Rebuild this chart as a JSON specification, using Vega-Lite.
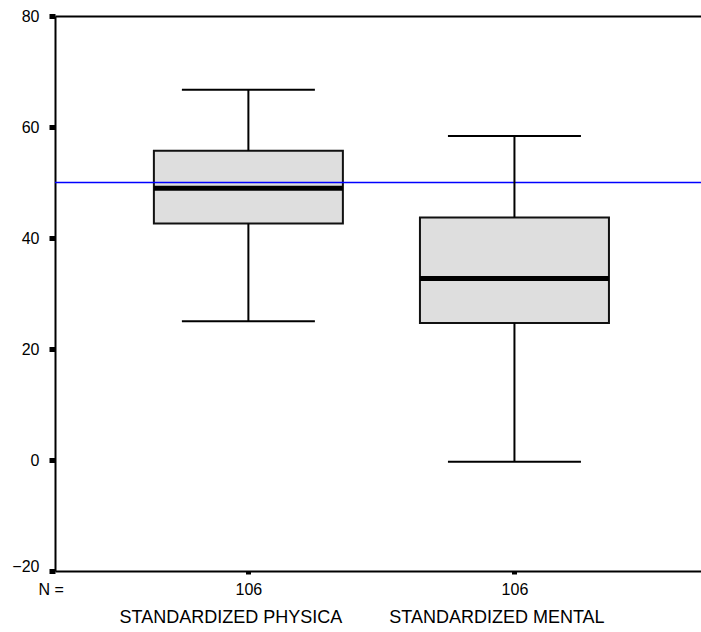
{
  "$schema": "https://vega.github.io/schema/vega-lite/v6.json",
  "width": 646,
  "height": 555,
  "autosize": {"type": "none"},
  "padding": {"left": 55, "top": 16, "right": 0, "bottom": 61},
  "background": "white",
  "config": {
    "view": {"stroke": null},
    "font": "Liberation Sans",
    "axisY": {
      "grid": false, "domainColor": "black", "domainWidth": 2, "tickColor": "black", "tickSize": 6, "tickWidth": 5,
      "labelFontSize": 16, "labelColor": "black", "labelPadding": 10, "labelFlush": false, "labelOverlap": false
    }
  },
  "data": {
    "values": [
      {"var": "STANDARDIZED PHYSICA", "n": 106, "lower": 25.0, "q1": 42.6, "median": 48.95, "q3": 55.7, "upper": 66.7},
      {"var": "STANDARDIZED MENTAL", "n": 106, "lower": -0.3, "q1": 24.7, "median": 32.7, "q3": 43.7, "upper": 58.4}
    ]
  },
  "layer": [
    {
      "mark": {"type": "bar", "size": 189, "fill": "#dedede", "stroke": "#111111", "strokeWidth": 2, "opacity": 1},
      "encoding": {
        "x": {
          "field": "var", "type": "nominal",
          "scale": {"type": "point", "domain": ["STANDARDIZED PHYSICA", "STANDARDIZED MENTAL"], "padding": 0.714, "align": 0.509},
          "axis": {
            "orient": "bottom", "labelExpr": "'106'", "title": "N =", "titleX": -17, "titleY": 10,
            "titleAlign": "left", "titleBaseline": "top", "titleFontSize": 16, "titleFontWeight": "normal",
            "titleColor": "black", "labelFontSize": 16, "labelColor": "black", "labelPadding": 7, "labelAngle": 0,
            "tickSize": 3, "tickWidth": 5, "tickColor": "black", "domainColor": "black", "domainWidth": 2
          }
        },
        "y": {
          "field": "q1", "type": "quantitative", "title": null,
          "scale": {"domain": [-20, 80], "nice": false, "zero": false},
          "axis": {
            "values": [-20, 0, 20, 40, 60, 80], "title": null, "labelOverlap": false,
            "labelOffset": {"condition": {"test": "datum.value === -20", "value": -5}, "value": 0}
          }
        },
        "y2": {"field": "q3"}
      }
    },
    {
      "mark": {"type": "tick", "size": 189, "thickness": 5, "color": "black", "opacity": 1},
      "encoding": {
        "x": {
          "field": "var", "type": "nominal",
          "axis": {
            "orient": "bottom", "title": null, "domain": false, "ticks": false, "labelFontSize": 18,
            "labelColor": "black", "labelPadding": 37, "labelAngle": 0, "labelOffset": -18, "labelLimit": 0
          }
        },
        "y": {"field": "median", "type": "quantitative", "title": null}
      }
    },
    {
      "data": {"values": [{"ref": 50}]},
      "mark": {"type": "rule", "color": "#0000ff", "strokeWidth": 1.5},
      "encoding": {"y": {"field": "ref", "type": "quantitative", "title": null}}
    },
    {
      "mark": {"type": "rule", "color": "black", "strokeWidth": 2},
      "encoding": {
        "x": {
          "field": "var", "type": "nominal",
          "axis": {"orient": "top", "labels": false, "ticks": false, "title": null, "domainColor": "black", "domainWidth": 2}
        },
        "y": {"field": "q3", "type": "quantitative", "title": null},
        "y2": {"field": "upper"}
      }
    },
    {
      "mark": {"type": "rule", "color": "black", "strokeWidth": 2},
      "encoding": {
        "x": {"field": "var", "type": "nominal", "axis": null},
        "y": {"field": "lower", "type": "quantitative", "title": null},
        "y2": {"field": "q1"}
      }
    },
    {
      "mark": {"type": "tick", "size": 133, "thickness": 2, "color": "black", "opacity": 1},
      "encoding": {
        "x": {"field": "var", "type": "nominal", "axis": null},
        "y": {"field": "upper", "type": "quantitative", "title": null}
      }
    },
    {
      "mark": {"type": "tick", "size": 133, "thickness": 2, "color": "black", "opacity": 1},
      "encoding": {
        "x": {"field": "var", "type": "nominal", "axis": null},
        "y": {"field": "lower", "type": "quantitative", "title": null}
      }
    }
  ],
  "resolve": {"scale": {"x": "shared"}, "axis": {"x": "independent"}}
}
